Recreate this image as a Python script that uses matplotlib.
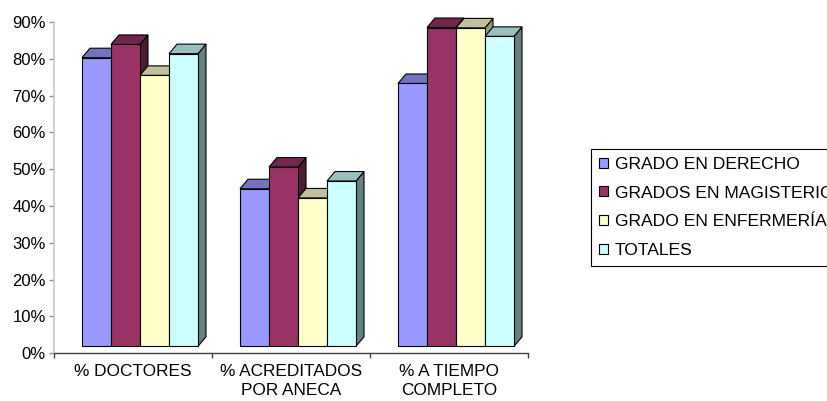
import numpy as np
import matplotlib
matplotlib.use("Agg")
import matplotlib.pyplot as plt
from matplotlib.patches import Polygon, Patch
from matplotlib.ticker import FuncFormatter

plt.rcParams['font.family'] = ['Liberation Sans', 'DejaVu Sans']
plt.rcParams['font.size'] = 12

categorias = ['% DOCTORES', '% ACREDITADOS\nPOR ANECA', '% A TIEMPO\nCOMPLETO']
series = ['GRADO EN DERECHO', 'GRADOS EN MAGISTERIO', 'GRADO EN ENFERMERÍA', 'TOTALES']
derecho = [78.4, 42.8, 71.4]
magisterio = [82.0, 48.7, 86.6]
enfermeria = [73.6, 40.3, 86.5]
totales = [79.5, 44.9, 84.2]
datos = [derecho, magisterio, enfermeria, totales]

# colores de cada cara : frente, arriba, lado
frente = ['#9999ff', '#993366', '#ffffcc', '#ccffff']
arriba = ['#7373c0', '#73264d', '#c0c09a', '#99c0c0']
lado = ['#5c5c99', '#4d1a33', '#99997a', '#668080']

fig = plt.figure(figsize=(8.28, 4.01), dpi=100)
ax = fig.add_axes([54/828, 47.7/401, 474/828, 331.3/401])
ax.set_xlim(0, 3)
ax.set_ylim(0, 90)

# pixeles -> unidades de datos
px_x = 3 / 474.0
px_y = 90 / 331.3
dx0, dy0 = 7*px_x, 7*px_y      # desplazamiento del frente de las barras
ddx, ddy = 8*px_x, 9.5*px_y    # profundidad 3D
ancho = 29*px_x

z = 3
for i in range(len(categorias)):
    for j in range(len(series)):
        v = datos[j][i]
        x0 = i + 0.5 - 2*ancho + j*ancho + dx0
        x1 = x0 + ancho
        b = dy0
        t = v + dy0
        side = Polygon([(x1, b), (x1+ddx, b+ddy), (x1+ddx, t+ddy), (x1, t)],
                       closed=True, facecolor=lado[j], edgecolor='black', lw=0.8,
                       zorder=z, clip_on=False)
        top = Polygon([(x0, t), (x1, t), (x1+ddx, t+ddy), (x0+ddx, t+ddy)],
                      closed=True, facecolor=arriba[j], edgecolor='black', lw=0.8,
                      zorder=z, clip_on=False)
        front = Polygon([(x0, b), (x1, b), (x1, t), (x0, t)],
                        closed=True, facecolor=frente[j], edgecolor='black', lw=0.8,
                        zorder=z+0.5, clip_on=False)
        ax.add_patch(side)
        ax.add_patch(top)
        ax.add_patch(front)
        z += 1

ax.set_yticks(np.arange(0, 91, 10))
ax.yaxis.set_major_formatter(FuncFormatter(lambda y, p: '%d%%' % y))
ax.set_xticks([0.5, 1.5, 2.5])
ax.set_xticklabels(categorias, linespacing=1.38, fontsize=12.4)
ax.set_xticks([0, 1, 2, 3], minor=True)
ax.tick_params(axis='x', which='major', length=0, pad=7.5)
ax.tick_params(axis='x', which='minor', length=3.6, color='#404040', width=1)
ax.tick_params(axis='y', length=3.6, pad=2.2, color='#909090', width=1)

for s in ['top', 'right']:
    ax.spines[s].set_visible(False)
ax.spines['left'].set_color('#c8c8c8')
ax.spines['left'].set_linewidth(1.2)
ax.spines['bottom'].set_color('#404040')
ax.spines['bottom'].set_linewidth(1)

handles = [Patch(facecolor=frente[j], edgecolor='black', lw=0.8) for j in range(len(series))]
leg = fig.legend(handles, series, loc='upper left', bbox_to_anchor=(591/828, (401-149)/401),
                 borderaxespad=0, borderpad=0.45, handlelength=0.55, handleheight=0.5,
                 handletextpad=0.35, labelspacing=0.78, fancybox=False, framealpha=1,
                 prop={'size': 12.6})
leg.get_frame().set_edgecolor('black')
leg.get_frame().set_linewidth(0.8)

fig.savefig('out.png', dpi=100)
